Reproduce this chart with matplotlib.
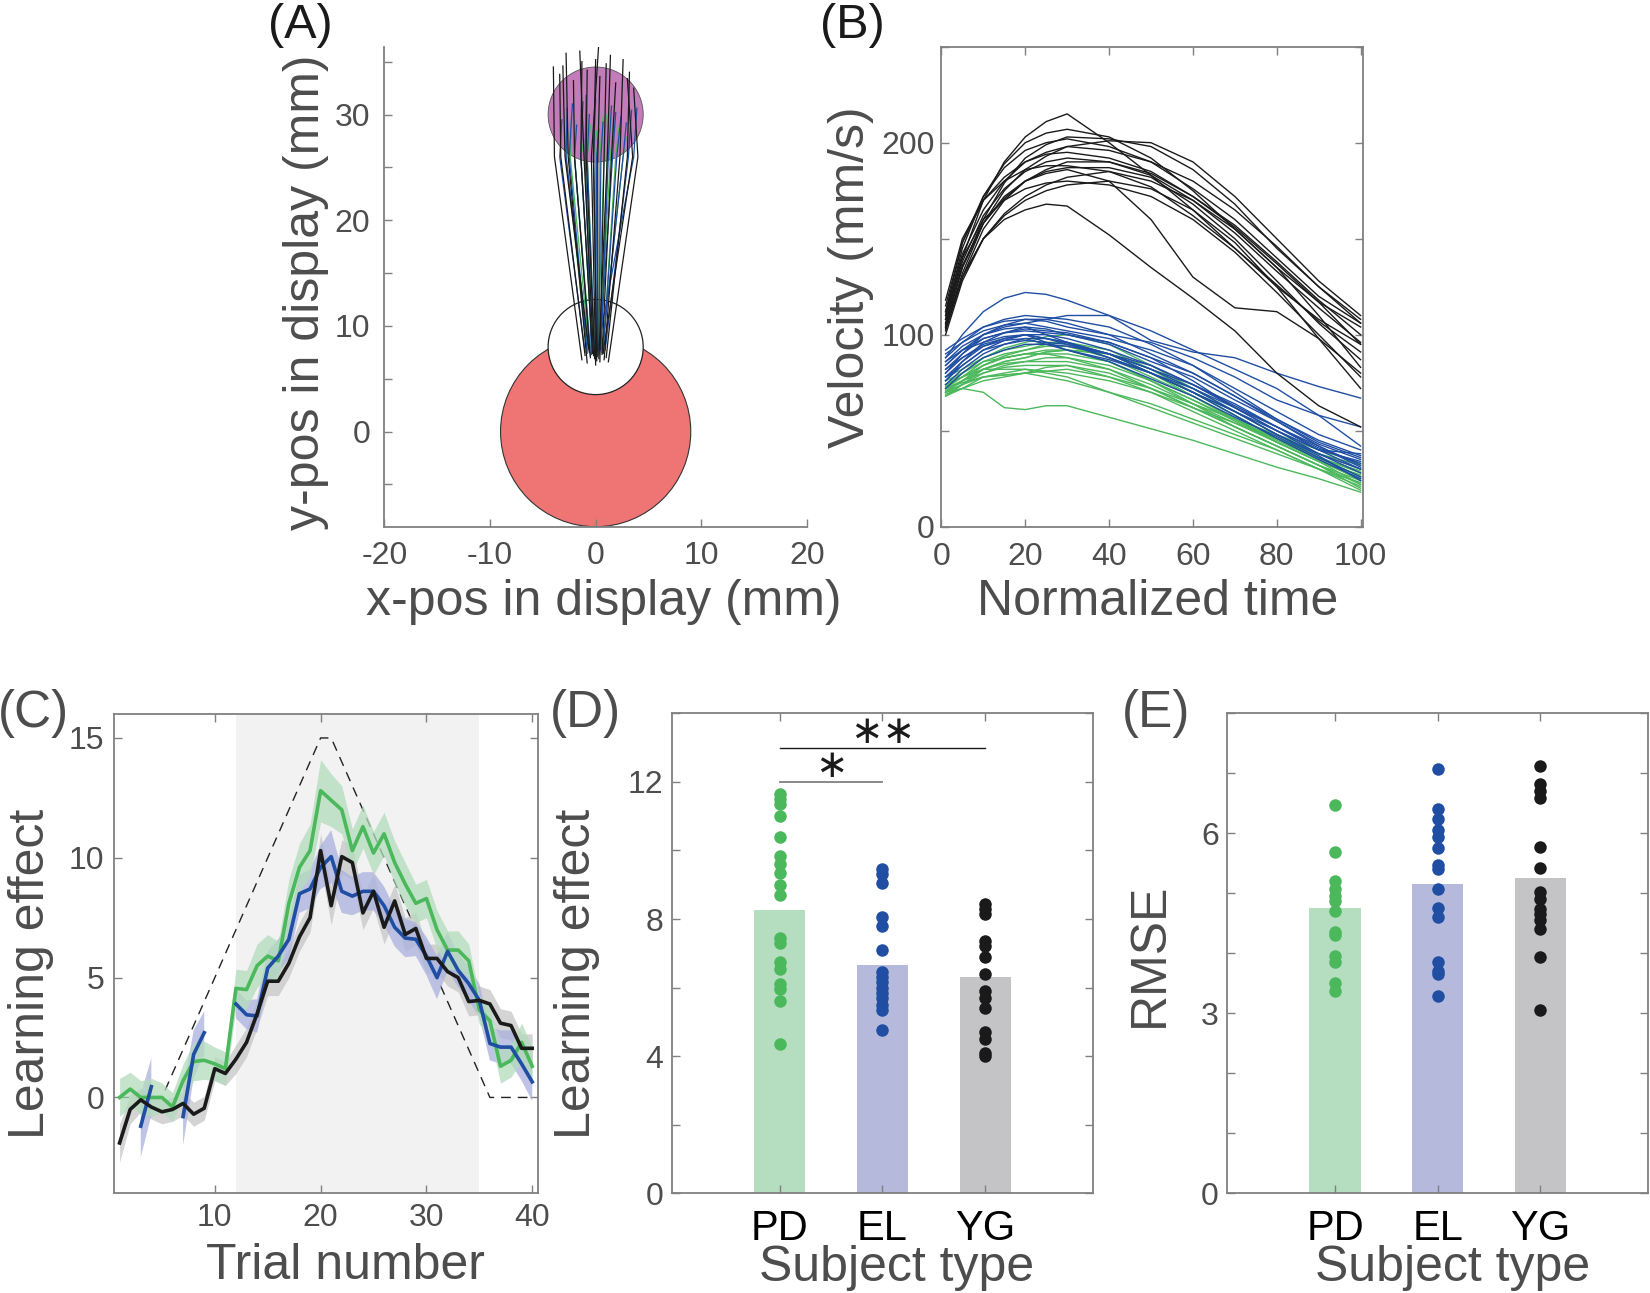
import matplotlib.pyplot as plt
from matplotlib.patches import Circle
import numpy as np

plt.rcParams['font.family'] = ['Liberation Sans', 'DejaVu Sans']
plt.rcParams['axes.unicode_minus'] = False

# ---------------- data ----------------
# (A) hand trajectories: start point, point at y=26, end point
blk_x0 = [-1.3, -1.0, -0.8, -0.5, -0.3, -0.1, 0.0, 0.2, 0.4, 0.6, 0.8, 1.0, 1.2, -0.6, 0.3, -0.2, 0.7, 0.1]
blk_y0 = [6.8, 7.2, 6.5, 7.0, 7.4, 6.9, 6.3, 7.1, 6.6, 7.3, 6.8, 7.0, 6.6, 7.5, 6.9, 7.2, 7.4, 6.7]
blk_xa = [-3.9, -3.3, -2.6, -2.0, -1.4, -0.9, -0.4, 0.2, 0.8, 1.5, 2.3, 3.0, 4.0, -2.9, 1.1, -1.1, 3.5, -0.2]
blk_x1 = [-4.0, -3.4, -2.8, -2.1, -1.3, -0.8, 0.3, 0.4, 1.0, 1.9, 2.6, 3.2, 3.6, -3.1, 1.4, -1.5, 3.0, 0.0]
blk_y1 = [34.5, 33.8, 35.8, 33.2, 35.0, 34.2, 36.8, 33.6, 34.8, 33.0, 35.2, 34.0, 32.5, 34.6, 35.6, 36.0, 33.4, 35.2]

blu_x0 = [-1.0, -0.7, -0.5, -0.3, -0.1, 0.1, 0.3, 0.5, 0.7, 0.9, -0.8, 0.0, 0.4, -0.4, 0.6, 0.2]
blu_y0 = [7.5, 7.8, 7.2, 7.9, 7.4, 7.6, 7.3, 7.8, 7.5, 7.7, 7.4, 7.9, 7.6, 7.3, 7.5, 7.8]
blu_xa = [-3.4, -2.8, -2.0, -1.4, -0.8, -0.2, 0.5, 1.2, 2.0, 3.1, -2.5, 0.1, 1.6, -1.0, 2.6, 3.6]
blu_x1 = [-3.2, -2.7, -1.8, -1.2, -0.6, 0.0, 0.7, 1.5, 2.4, 3.4, -2.2, 0.3, 1.9, -0.9, 2.9, 3.9]
blu_y1 = [29.5, 30.6, 29.0, 31.2, 30.0, 31.5, 29.3, 30.8, 29.8, 30.4, 31.0, 28.6, 30.2, 31.8, 29.2, 30.6]

grn_x0 = [-0.8, -0.5, -0.3, -0.1, 0.1, 0.3, 0.5, 0.7, -0.6, 0.0, 0.4, 0.2, -0.2, 0.6]
grn_y0 = [7.6, 7.9, 7.4, 7.8, 7.5, 7.7, 7.9, 7.4, 7.7, 7.5, 7.8, 7.6, 7.3, 7.7]
grn_xa = [-2.8, -2.0, -1.4, -0.8, -0.2, 0.4, 1.1, 1.9, -2.4, 0.0, 1.4, 0.8, -1.0, 2.6]
grn_x1 = [-2.6, -1.9, -1.1, -0.5, 0.1, 0.7, 1.3, 2.2, -2.3, 0.3, 1.7, 1.0, -0.8, 2.9]
grn_y1 = [28.2, 29.4, 27.6, 29.0, 28.4, 29.8, 28.0, 28.8, 29.6, 27.4, 29.2, 30.0, 28.6, 27.8]

# (B) velocity profiles sampled at these normalized times
vel_t = [1, 5, 10, 15, 20, 25, 30, 40, 50, 60, 70, 80, 90, 100]
vel_yg = [
    [108, 140, 170, 190, 203, 211, 215, 200, 183, 165, 145, 125, 108, 95],
    [110, 145, 172, 189, 200, 205, 207, 203, 192, 175, 155, 135, 117, 104],
    [105, 135, 160, 179, 192, 199, 203, 202, 198, 186, 168, 145, 125, 108],
    [112, 148, 172, 187, 196, 200, 202, 198, 190, 176, 160, 140, 120, 106],
    [104, 132, 158, 175, 186, 193, 198, 201, 200, 190, 172, 150, 128, 110],
    [115, 148, 170, 182, 190, 194, 195, 192, 185, 172, 157, 138, 118, 100],
    [108, 138, 162, 176, 185, 190, 192, 190, 183, 170, 153, 133, 114, 96],
    [102, 130, 155, 170, 180, 186, 190, 190, 184, 172, 156, 137, 117, 95],
    [118, 150, 170, 180, 186, 188, 188, 185, 177, 162, 145, 126, 107, 91],
    [106, 136, 158, 171, 180, 185, 187, 187, 182, 168, 150, 128, 106, 87],
    [100, 128, 150, 163, 172, 178, 182, 185, 180, 170, 155, 135, 110, 83],
    [110, 140, 160, 170, 176, 179, 180, 178, 172, 160, 143, 122, 100, 78],
    [103, 130, 150, 162, 170, 175, 178, 180, 176, 165, 148, 125, 98, 72],
    [106, 135, 158, 172, 180, 184, 186, 180, 160, 130, 114, 112, 98, 80],
    [104, 130, 150, 160, 165, 168, 167, 152, 135, 119, 102, 80, 63, 52],
    [112, 142, 165, 180, 190, 195, 198, 196, 190, 180, 165, 146, 125, 106],
]
vel_el = [
    [88, 100, 112, 119, 122, 121, 118, 110, 102, 92, 82, 72, 58, 42],
    [84, 92, 100, 104, 106, 108, 110, 110, 97, 91, 88, 80, 73, 67],
    [80, 90, 100, 105, 108, 107, 104, 100, 96, 88, 78, 66, 58, 52],
    [90, 96, 102, 105, 106, 104, 102, 98, 92, 84, 72, 60, 48, 40],
    [78, 86, 96, 101, 104, 103, 100, 96, 88, 80, 68, 56, 45, 37],
    [82, 90, 98, 101, 102, 101, 100, 95, 86, 78, 66, 55, 43, 35],
    [76, 84, 92, 97, 100, 100, 98, 92, 84, 74, 63, 52, 41, 33],
    [86, 94, 100, 103, 104, 100, 96, 90, 82, 74, 64, 52, 40, 30],
    [74, 82, 90, 95, 98, 98, 96, 88, 80, 70, 60, 48, 38, 28],
    [80, 88, 95, 98, 100, 96, 92, 86, 77, 68, 57, 47, 36, 26],
    [92, 98, 104, 107, 108, 108, 106, 100, 90, 80, 68, 55, 42, 32],
    [78, 84, 92, 95, 97, 96, 95, 90, 80, 70, 58, 46, 35, 25],
    [84, 92, 98, 101, 103, 102, 101, 96, 88, 76, 62, 50, 38, 30],
    [76, 86, 94, 98, 100, 98, 96, 90, 82, 72, 60, 48, 37, 24],
    [88, 96, 104, 108, 110, 109, 108, 104, 95, 84, 70, 56, 44, 36],
    [72, 80, 88, 92, 95, 95, 94, 90, 84, 74, 62, 50, 40, 34],
    [82, 88, 94, 97, 98, 95, 92, 87, 80, 72, 62, 52, 42, 31],
    [86, 92, 96, 99, 100, 98, 95, 88, 80, 70, 60, 50, 40, 38],
]
vel_pd = [
    [70, 72, 70, 62, 61, 63, 63, 57, 51, 45, 38, 31, 25, 18],
    [70, 76, 84, 89, 92, 95, 96, 92, 82, 72, 60, 48, 38, 30],
    [74, 80, 88, 93, 96, 99, 100, 95, 84, 72, 60, 48, 36, 26],
    [68, 74, 82, 86, 88, 91, 92, 90, 80, 70, 58, 46, 36, 28],
    [76, 80, 86, 90, 92, 94, 94, 88, 78, 68, 56, 45, 35, 24],
    [70, 76, 82, 85, 86, 86, 86, 82, 74, 64, 54, 44, 34, 22],
    [72, 76, 80, 83, 84, 84, 84, 80, 72, 62, 52, 42, 32, 20],
    [74, 78, 82, 82, 82, 81, 80, 76, 70, 62, 54, 46, 38, 32],
    [70, 74, 78, 79, 80, 83, 84, 78, 70, 60, 50, 40, 30, 21],
    [72, 78, 86, 88, 90, 90, 90, 86, 76, 66, 55, 44, 34, 25],
    [68, 72, 78, 80, 82, 80, 78, 70, 62, 54, 46, 38, 30, 23],
    [78, 82, 88, 92, 94, 96, 96, 90, 80, 68, 56, 44, 34, 27],
    [70, 74, 80, 84, 86, 88, 88, 84, 76, 66, 56, 46, 36, 29],
    [72, 75, 78, 79, 80, 78, 76, 70, 64, 56, 48, 40, 30, 19],
    [74, 78, 84, 88, 90, 92, 92, 86, 76, 64, 52, 42, 32, 24],
    [69, 72, 76, 78, 80, 81, 82, 78, 72, 64, 56, 48, 40, 33],
    [71, 76, 82, 86, 88, 91, 92, 90, 82, 70, 58, 46, 36, 26],
    [73, 78, 84, 88, 90, 90, 88, 82, 72, 62, 52, 42, 32, 22],
]

# (C) learning effect per trial (mean and SE)
trials = list(range(1, 41))
schedule = [0, 0, 0, 0, 0, 1, 2, 3, 4, 5, 6, 7, 8, 9, 10, 11, 12, 13, 14, 15,
            15, 14, 13, 12, 11, 10, 9, 8, 7, 6, 5, 4, 3, 2, 1, 0, 0, 0, 0, 0]
nan = np.nan
le_pd = [0.0, 0.35, 0.0, 0.0, 0.0, -0.4, 0.7, 1.5, 1.55, 1.4, 1.2, 4.55, 4.5, 5.5, 5.9, 5.7, 8.1, 9.6, 10.3, 12.8,
         12.4, 12.0, 10.3, 11.3, 10.2, 11.0, 9.8, 8.9, 8.1, 8.3, 7.0, 6.15, 6.15, 5.7, 3.65, 3.2, 1.3, 1.55, 2.3, 1.3]
le_el = [nan, nan, -1.2, 0.45, nan, nan, -0.8, 1.8, 2.7, nan, nan, 3.9, 3.45, 3.4, 5.4, 5.9, 6.6, 8.5, 8.7, 9.6,
         10.05, 8.6, 8.4, 8.6, 8.6, 8.0, 7.1, 6.65, 6.6, 5.9, 5.0, 6.1, 5.3, 4.75, 4.05, 2.25, 2.1, 2.1, 1.4, 0.65]
le_yg = [-1.9, -0.5, -0.1, -0.4, -0.6, -0.5, -0.25, -0.7, -0.45, 1.2, 1.0, 1.6, 2.3, 3.5, 4.85, 4.85, 5.6, 6.7, 7.5, 10.3,
         8.0, 10.05, 9.8, 7.7, 8.6, 7.1, 8.2, 6.8, 7.05, 5.8, 5.8, 5.25, 5.0, 4.0, 4.05, 3.9, 3.1, 3.0, 2.05, 2.05]
se_pd = [0.8, 0.7, 0.7, 0.8, 0.6, 0.6, 0.7, 0.8, 0.8, 0.7, 0.7, 0.8, 0.8, 0.9, 0.9, 0.8, 1.0, 1.0, 1.1, 1.3,
         1.1, 1.0, 0.9, 0.9, 0.9, 0.9, 0.9, 0.9, 0.8, 0.8, 0.8, 0.8, 0.8, 0.7, 0.6, 0.6, 0.7, 0.7, 0.8, 0.8]
se_el = [nan, nan, 1.3, 1.2, nan, nan, 1.2, 1.0, 0.9, nan, nan, 0.6, 0.6, 0.7, 0.7, 0.7, 0.8, 0.8, 0.8, 0.9,
         1.1, 0.9, 0.8, 0.8, 0.8, 0.8, 0.8, 0.8, 0.7, 0.8, 0.9, 0.8, 0.7, 0.7, 0.7, 0.7, 0.7, 0.7, 0.7, 0.8]
se_yg = [0.8, 0.6, 0.5, 0.5, 0.5, 0.5, 0.5, 0.5, 0.5, 0.5, 0.5, 0.6, 0.6, 0.6, 0.6, 0.6, 0.6, 0.6, 0.6, 0.7,
         0.8, 0.7, 0.7, 0.7, 0.7, 0.7, 0.7, 0.7, 0.7, 0.6, 0.6, 0.6, 0.6, 0.6, 0.6, 0.6, 0.6, 0.6, 0.6, 0.6]

# (D) and (E) per-subject values
groups = ['PD', 'EL', 'YG']
le_means = [8.25, 6.65, 6.3]
le_subj = [
    [11.65, 11.5, 11.35, 11.0, 10.4, 9.85, 9.6, 9.35, 9.0, 8.7, 7.45, 7.3, 6.75, 6.55, 6.1, 5.95, 5.6, 4.35],
    [9.45, 9.3, 9.05, 8.05, 7.8, 7.1, 6.45, 6.3, 6.15, 6.0, 5.85, 5.7, 5.5, 5.35, 4.75],
    [8.45, 8.3, 8.15, 7.35, 7.2, 6.9, 6.4, 5.9, 5.7, 5.4, 4.7, 4.5, 4.1, 4.0],
]
rmse_means = [4.75, 5.16, 5.26]
rmse_subj = [
    [6.48, 5.69, 5.2, 5.08, 4.95, 4.88, 4.7, 4.36, 4.3, 3.95, 3.85, 3.5, 3.38],
    [7.07, 6.4, 6.24, 6.06, 5.94, 5.76, 5.47, 5.41, 5.07, 4.75, 4.6, 3.86, 3.71, 3.65, 3.29],
    [7.12, 6.82, 6.71, 6.59, 5.78, 5.43, 5.03, 4.91, 4.74, 4.65, 4.56, 4.41, 3.94, 3.05],
]

# ---------------- style ----------------
c_pd, c_el, c_yg = '#4cb85c', '#1f4ea3', '#1a1a1a'
bar_cols = ['#b5ddbf', '#b5badc', '#c4c4c6']
band_cols = ['#b3dcbc', '#aab1de', '#c6c6c6']
spine_c = '#808080'
lab_c = '#4d4d4d'

W, H = 1650, 1293
fig = plt.figure(figsize=(16.5, 12.93), dpi=100)


def add_ax(l, t, r, b):
    return fig.add_axes([l / W, 1 - b / H, (r - l) / W, (b - t) / H])


def ftext(x, y, s, va='center', **kw):
    fig.text(x / W, 1 - y / H, s, ha='center', va=va, **kw)


def style(ax, box=True, pad=6):
    for sp in ax.spines.values():
        sp.set_color(spine_c)
        sp.set_linewidth(1.3)
    if not box:
        ax.spines['top'].set_visible(False)
        ax.spines['right'].set_visible(False)
    ax.tick_params(direction='in', length=6, width=1.0, color=spine_c, labelcolor=lab_c,
                   labelsize=23, top=box, right=box, pad=pad)


# ---- (A) ----
axA = add_ax(384.3, 46.7, 807, 526.7)
axA.set_xlim(-20, 20)
axA.set_ylim(-9, 36.42)
axA.add_patch(Circle((0, 0), 9, facecolor='#ef7575', edgecolor='#333333', lw=0.8, zorder=1))
axA.add_patch(Circle((0, 8), 4.5, facecolor='white', edgecolor='#222222', lw=0.9, zorder=2))
axA.add_patch(Circle((0, 30), 4.5, facecolor='#c17cb9', edgecolor='#555555', lw=0.6, zorder=2))
for x0, y0, xa, x1, y1 in zip(grn_x0, grn_y0, grn_xa, grn_x1, grn_y1):
    axA.plot([x0, xa, x1], [y0, 26, y1], color=c_pd, lw=0.9, zorder=3)
for x0, y0, xa, x1, y1 in zip(blu_x0, blu_y0, blu_xa, blu_x1, blu_y1):
    axA.plot([x0, xa, x1], [y0, 26, y1], color=c_el, lw=0.9, zorder=4)
for x0, y0, xa, x1, y1 in zip(blk_x0, blk_y0, blk_xa, blk_x1, blk_y1):
    axA.plot([x0, xa, x1], [y0, 26, y1], color=c_yg, lw=0.9, zorder=5)
style(axA, box=False, pad=10)
axA.set_xticks([-20, -10, 0, 10, 20])
axA.set_yticks([-5, 0, 5, 10, 15, 20, 25, 30, 35])
axA.set_yticklabels(['', '0', '', '10', '', '20', '', '30', ''])

# ---- (B) ----
axB = add_ax(941.4, 46.7, 1362.7, 526.7)
for v in vel_pd:
    axB.plot(vel_t, v, color=c_pd, lw=1.0)
for v in vel_el:
    axB.plot(vel_t, v, color=c_el, lw=1.0)
for v in vel_yg:
    axB.plot(vel_t, v, color=c_yg, lw=1.0)
axB.set_xlim(0, 100.5)
axB.set_ylim(0, 250)
style(axB, pad=5)
axB.tick_params(axis='x', pad=11)
axB.set_xticks([0, 20, 40, 60, 80, 100])
axB.set_yticks([0, 50, 100, 150, 200, 250])
axB.set_yticklabels(['0', '', '100', '', '200', ''])

# ---- (C) ----
axC = add_ax(114.3, 714, 537.5, 1193.3)
axC.axvspan(12, 35, color='#f2f2f2', lw=0, zorder=0)
axC.plot(trials, schedule, color='#222222', lw=1.0, dashes=(7, 5), zorder=1)
for m, s, bc in [(le_yg, se_yg, band_cols[2]),
                 (le_el, se_el, band_cols[1]),
                 (le_pd, se_pd, band_cols[0])]:
    m = np.array(m)
    s = np.array(s)
    axC.fill_between(trials, m - s, m + s, color=bc, alpha=0.75, lw=0, zorder=2)
for m, lc, z in [(le_pd, c_pd, 3), (le_el, c_el, 4), (le_yg, c_yg, 5)]:
    axC.plot(trials, m, color=lc, lw=2.6, zorder=z)
axC.set_xlim(0.5, 40.5)
axC.set_ylim(-4, 16)
style(axC, pad=7)
axC.set_xticks([10, 20, 30, 40])
axC.set_yticks([0, 5, 10, 15])

# ---- (D) and (E) ----
dot_cols = [c_pd, c_el, c_yg]


def bar_panel(ax, means, subj):
    ax.bar([1, 2, 3], means, width=0.5, color=bar_cols, zorder=1)
    for i, vals in enumerate(subj):
        ax.plot([i + 1] * len(vals), vals, 'o', color=dot_cols[i], ms=9, mec='none', zorder=3)
    ax.set_xlim(-0.05, 4.05)
    style(ax, pad=6)
    ax.set_xticks([1, 2, 3])
    ax.set_xticklabels(groups)
    ax.tick_params(axis='x', labelsize=30, labelcolor='black', pad=11)


axD = add_ax(671.5, 713.3, 1093.3, 1193.3)
bar_panel(axD, le_means, le_subj)
axD.set_ylim(0, 14)
axD.set_yticks([0, 2, 4, 6, 8, 10, 12, 14])
axD.set_yticklabels(['0', '', '4', '', '8', '', '12', ''])
axD.plot([1, 2], [12, 12], color='#808080', lw=1.3, zorder=4)
axD.plot([1, 3], [13, 13], color='#1a1a1a', lw=1.0, zorder=4)
axD.text(1.5, 12.45, '\u2217', ha='center', va='center', fontsize=28, family='DejaVu Sans', color='#1a1a1a')
axD.text(2, 13.45, '\u2217\u2217', ha='center', va='center', fontsize=28, family='DejaVu Sans', color='#1a1a1a')

axE = add_ax(1227.3, 713.3, 1648.3, 1193.3)
bar_panel(axE, rmse_means, rmse_subj)
axE.set_ylim(0, 8)
axE.set_yticks([0, 1, 2, 3, 4, 5, 6, 7, 8])
axE.set_yticklabels(['0', '', '', '3', '', '', '6', '', ''])

# ---- labels ----
lab_kw = dict(fontsize=36, color=lab_c)
ftext(604, 602, 'x-pos in display (mm)', **lab_kw)
ftext(306, 292, 'y-pos in display (mm)', rotation=90, **lab_kw)
ftext(851, 277, 'Velocity (mm/s)', rotation=90, **lab_kw)
ftext(1158, 602, 'Normalized time', **lab_kw)
ftext(31, 974, 'Learning effect', rotation=90, **lab_kw)
ftext(345, 1266, 'Trial number', **lab_kw)
ftext(577, 974, 'Learning effect', rotation=90, **lab_kw)
ftext(897, 1268, 'Subject type', **lab_kw)
ftext(1150, 955, 'RMSE', rotation=90, **lab_kw)
ftext(1453, 1268, 'Subject type', **lab_kw)

ftext(300, 3, '(A)', va='top', fontsize=35, color='#1a1a1a')
ftext(852, 3, '(B)', va='top', fontsize=35, color='#1a1a1a')
ftext(33, 714, '(C)', color=lab_c, fontsize=37)
ftext(585, 714, '(D)', color=lab_c, fontsize=37)
ftext(1156, 714, '(E)', color=lab_c, fontsize=37)

fig.savefig('out.png', dpi=100)
